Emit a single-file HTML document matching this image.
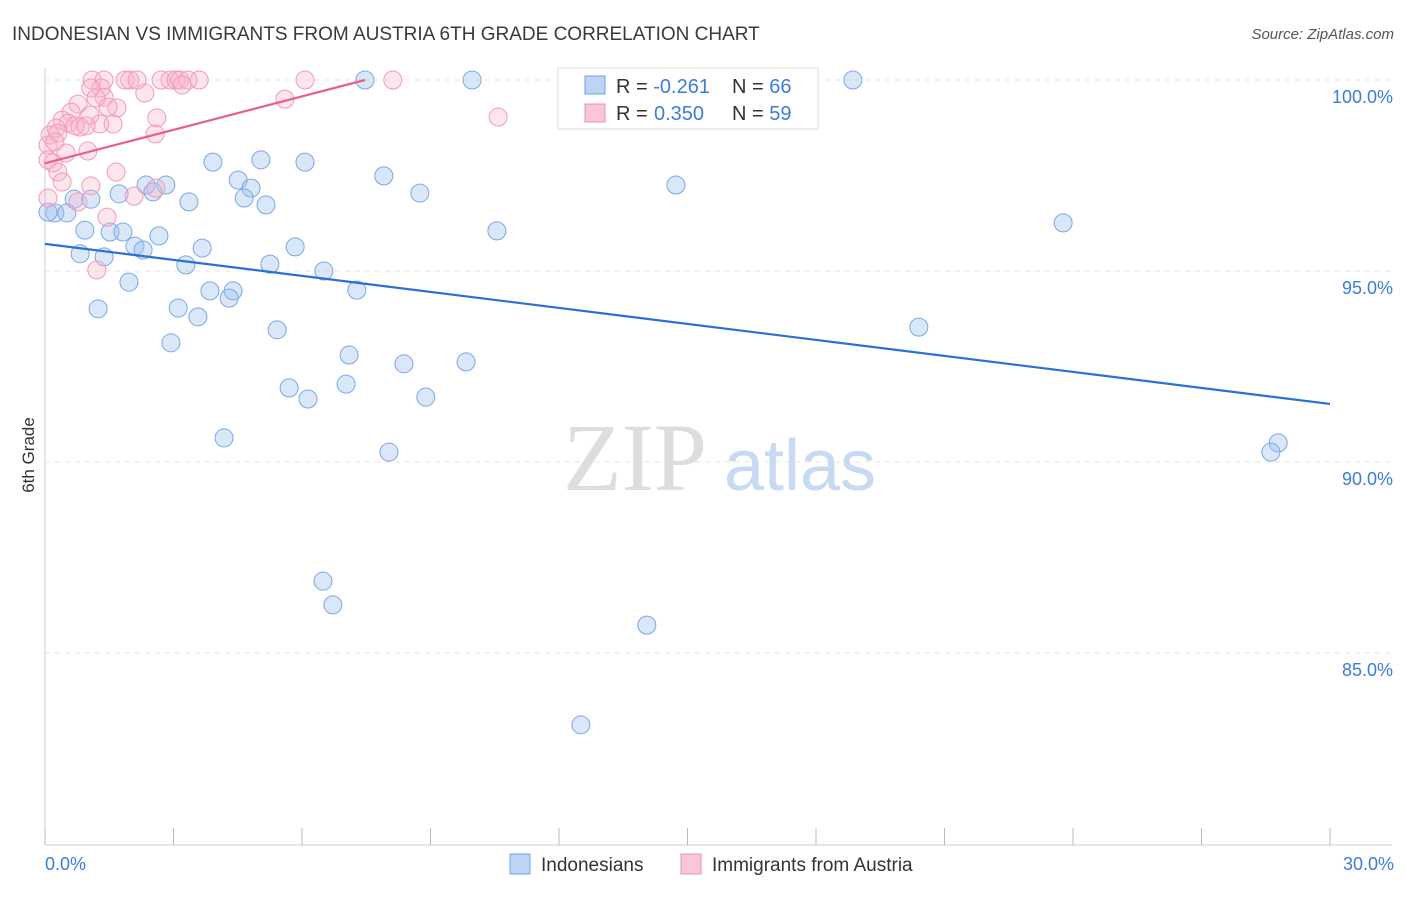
<!DOCTYPE html>
<html><head><meta charset="utf-8"><style>
body{margin:0;background:#fff;font-family:"Liberation Sans",sans-serif;}
</style></head><body>
<svg width="1406" height="892" xmlns="http://www.w3.org/2000/svg">
<text x="12" y="40" font-size="19" fill="#3a3a3a" style="font-weight:300">INDONESIAN VS IMMIGRANTS FROM AUSTRIA 6TH GRADE CORRELATION CHART</text>
<text x="1394" y="39" font-size="15" fill="#555" text-anchor="end" font-style="italic">Source: ZipAtlas.com</text>
<text x="34" y="455" font-size="17" fill="#333" text-anchor="middle" transform="rotate(-90 34 455)">6th Grade</text>
<g id="grid"></g>
<line x1="45" y1="68" x2="45" y2="845" stroke="#ccc"/>
<line x1="45" y1="845" x2="1392" y2="845" stroke="#ccc"/>
<g id="xticks"></g>
<text x="45" y="870" font-size="18" fill="#3b7dd8">0.0%</text>
<text x="1394" y="870" font-size="18" fill="#3b7dd8" text-anchor="end">30.0%</text>
<g>
<text x="635" y="490" font-size="96" fill="#ddd" font-family="Liberation Serif,serif" text-anchor="middle">ZIP</text>
<text x="800" y="490" font-size="72" fill="#c8daf2" text-anchor="middle">atlas</text>
</g>
<g id="pts"></g>
<g id="lines"></g>
<g>
<rect x="558" y="68" width="260" height="61" fill="#fff" stroke="#ddd"/>
<rect x="585" y="76" width="20" height="18" fill="#bcd4f5" stroke="#6fa0e0"/>
<rect x="585" y="104" width="20" height="18" fill="#f9c6d5" stroke="#f090b0"/>
<text x="616" y="93" font-size="20" fill="#333">R = <tspan fill="#3b7dd8">-0.261</tspan></text>
<text x="732" y="93" font-size="20" fill="#333">N = <tspan fill="#3b7dd8">66</tspan></text>
<text x="616" y="120" font-size="20" fill="#333">R = <tspan fill="#3b7dd8" x="654">0.350</tspan></text>
<text x="732" y="120" font-size="20" fill="#333">N = <tspan fill="#3b7dd8">59</tspan></text>
</g>
<g>
<rect x="510" y="854" width="20" height="20" fill="#bcd4f5" stroke="#6fa0e0"/>
<text x="541" y="871" font-size="19" fill="#333">Indonesians</text>
<rect x="681" y="854" width="20" height="20" fill="#f9c6d5" stroke="#f090b0"/>
<text x="712" y="871" font-size="19" fill="#333">Immigrants from Austria</text>
</g>
</svg>
<script>
const yTicks=[100,95,90,85];
const yTickLabels=["100.0%","95.0%","90.0%","85.0%"];
const xTicks=[0,3,6,9,12,15,18,21,24,27,30];
const blueX=[7.47,9.97,18.86,3.92,5.04,6.07,7.91,4.51,4.81,8.75,14.73,2.36,2.82,2.52,1.73,0.68,1.07,3.36,4.65,5.16,0.23,0.51,0.07,0.93,1.52,1.82,2.66,10.55,23.77,2.10,2.29,3.67,5.84,0.82,1.38,3.29,5.25,6.51,1.96,3.85,4.39,4.30,7.28,1.24,3.11,3.57,5.42,20.40,2.94,7.10,8.38,9.83,5.70,6.14,7.03,8.89,4.18,8.03,28.79,28.62,6.49,6.72,14.05,12.51];
const blueY=[100,100,100,97.85,97.91,97.85,97.49,97.38,97.17,97.04,97.25,97.25,97.25,97.07,97.02,96.88,96.88,96.81,96.91,96.73,96.52,96.52,96.54,96.07,96.02,96.02,95.92,96.05,96.26,95.65,95.55,95.60,95.63,95.45,95.37,95.16,95.18,95.0,94.71,94.48,94.48,94.29,94.50,94.01,94.03,93.80,93.46,93.53,93.12,92.80,92.57,92.62,91.94,91.65,92.04,91.70,90.63,90.26,90.50,90.26,86.88,86.26,85.73,83.12];
const pinkX=[1.10,1.38,1.87,1.98,2.15,2.71,2.92,3.06,3.15,3.34,3.60,6.07,8.12,3.20,1.31,1.07,2.33,1.38,1.19,5.60,1.68,0.77,1.47,0.61,1.05,2.61,10.58,0.40,0.54,0.82,0.26,0.70,1.28,1.59,0.96,0.12,0.30,2.57,0.07,0.23,1.00,0.49,0.07,0.19,1.66,0.30,0.40,1.07,2.59,2.08,0.07,0.77,1.45,1.21];
const pinkY=[100,100,100,100,100,100,100,100,100,100,100,100,100,99.87,99.79,99.79,99.66,99.55,99.53,99.50,99.27,99.37,99.29,99.16,99.08,99.01,99.03,98.95,98.87,98.77,98.74,98.80,98.85,98.85,98.80,98.56,98.61,98.59,98.30,98.38,98.14,98.09,97.91,97.83,97.59,97.59,97.33,97.23,97.17,96.96,96.91,96.81,96.41,95.03];
const blueTrend=[[0,95.71],[30,91.52]];
const pinkTrend=[[0,97.82],[7.47,100]];
const sx=v=>45+v/30*1285;
const sy=v=>80+(100-v)/5*191;
const NS="http://www.w3.org/2000/svg";
function mk(t,a,p){const e=document.createElementNS(NS,t);for(const k in a)e.setAttribute(k,a[k]);p.appendChild(e);return e;}
const grid=document.getElementById('grid');
yTicks.forEach((t,i)=>{
 const l=mk('line',{x1:45,x2:1392,y1:sy(t),y2:sy(t),stroke:'#e4e4e4','stroke-dasharray':'5,5'},grid);
 
 
 const tx=mk('text',{x:1393,y:sy(t)+23,'font-size':18,fill:'#3b7dd8','text-anchor':'end'},grid);
 tx.textContent=yTickLabels[i];
 
 
});
const xt=document.getElementById('xticks');
xTicks.forEach(t=>{
 const l=mk('line',{x1:sx(t),x2:sx(t),y1:828,y2:845,stroke:'#bbb'},xt);
 
 
});
const pts=document.getElementById('pts');
blueX.forEach((x,i)=>{
 const c=mk('circle',{cx:sx(x),cy:sy(blueY[i]),r:9,fill:'rgba(160,196,240,0.4)',stroke:'#7aa8e4','stroke-width':1},pts);
 
 
});
pinkX.forEach((x,i)=>{
 const c=mk('circle',{cx:sx(x),cy:sy(pinkY[i]),r:9,fill:'rgba(248,180,200,0.35)',stroke:'#f29ab8','stroke-width':1},pts);
 
 
});
const lines=document.getElementById('lines');
const bl=mk('line',{x1:sx(blueTrend[0][0]),y1:sy(blueTrend[0][1]),x2:sx(blueTrend[1][0]),y2:sy(blueTrend[1][1]),stroke:'#2a6fd6','stroke-width':2.2},lines);


const pl=mk('line',{x1:sx(pinkTrend[0][0]),y1:sy(pinkTrend[0][1]),x2:sx(pinkTrend[1][0]),y2:sy(pinkTrend[1][1]),stroke:'#e8608a','stroke-width':2.2},lines);


</script>
</body></html>
